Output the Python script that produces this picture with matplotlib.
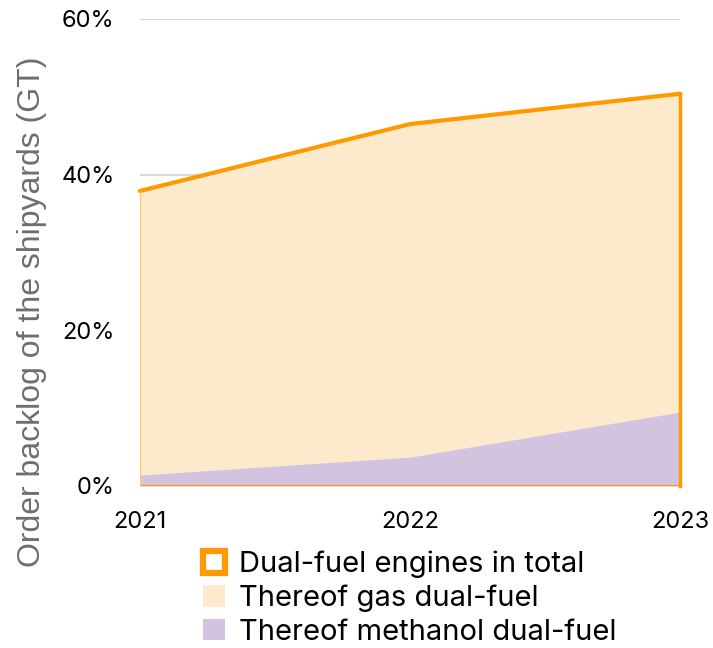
import matplotlib
matplotlib.use("Agg")
import matplotlib.pyplot as plt
from matplotlib.patches import Patch
from matplotlib.ticker import FuncFormatter

plt.rcParams['font.family'] = ['Inter', 'DejaVu Sans']

years = [2021, 2022, 2023]
total_dual_fuel = [37.9, 46.5, 50.4]
methanol_dual_fuel = [1.4, 3.7, 9.5]
y_ticks = [0, 20, 40, 60]
legend_labels = ["Dual-fuel engines in total", "Thereof gas dual-fuel", "Thereof methanol dual-fuel"]

orange = "#FF9900"
gas_fill = "#FDE9CB"
methanol_fill = "#D2C4E0"
grid_col = "#D9D9D9"

fig = plt.figure(figsize=(7.13, 6.48), dpi=100)
ax = fig.add_axes([0.196, 0.25, 0.758, 0.7207])

ax.set_xlim(years[0], years[-1])
ax.set_ylim(0, 60)
ax.set_yticks(y_ticks)
ax.yaxis.set_major_formatter(FuncFormatter(lambda v, p: f"{v:.0f}%"))
ax.set_xticks(years)
ax.set_xticklabels([str(y) for y in years])
ax.grid(axis='y', color=grid_col, linewidth=1.5, zorder=0)
ax.set_axisbelow(True)
for s in ax.spines.values():
    s.set_visible(False)
ax.tick_params(axis='both', length=0, labelsize=17, colors="#000000")
ax.tick_params(axis='y', pad=18)
ax.tick_params(axis='x', pad=18)

# stacked areas: gas share fills up to the total, methanol share at the bottom
ax.fill_between(years, 0, total_dual_fuel, color=gas_fill, linewidth=0, zorder=2)
ax.fill_between(years, 0, methanol_dual_fuel, color=methanol_fill, linewidth=0, zorder=3)

# outline of the total area
ax.plot(years, total_dual_fuel, color=orange, linewidth=3, solid_capstyle='round', zorder=4, clip_on=False)
ax.plot([years[-1], years[-1]], [0, total_dual_fuel[-1]], color=orange, linewidth=2.5, zorder=4, clip_on=False)
ax.plot([years[0], years[-1]], [0, 0], color=orange, linewidth=1.5, zorder=4)
ax.plot([years[0], years[0]], [0, total_dual_fuel[0]], color="#FFC870", linewidth=0.8, zorder=4)

ax.set_ylabel("Order backlog of the shipyards (GT)", fontsize=23, color="#6E6E6E",
              family=['Liberation Sans', 'DejaVu Sans'])
ax.yaxis.set_label_coords(-0.172, 0.373)

handles = [
    Patch(facecolor="white", edgecolor=orange, linewidth=4.5, joinstyle='round'),
    Patch(facecolor=gas_fill, edgecolor="none"),
    Patch(facecolor=methanol_fill, edgecolor="none"),
]
fig.legend(handles, legend_labels, loc='upper left', bbox_to_anchor=(0.268, 0.168),
           frameon=False, fontsize=21, handlelength=0.75, handleheight=0.75,
           handletextpad=0.5, labelspacing=0.22, borderaxespad=0)

fig.savefig("out.png", dpi=100)
